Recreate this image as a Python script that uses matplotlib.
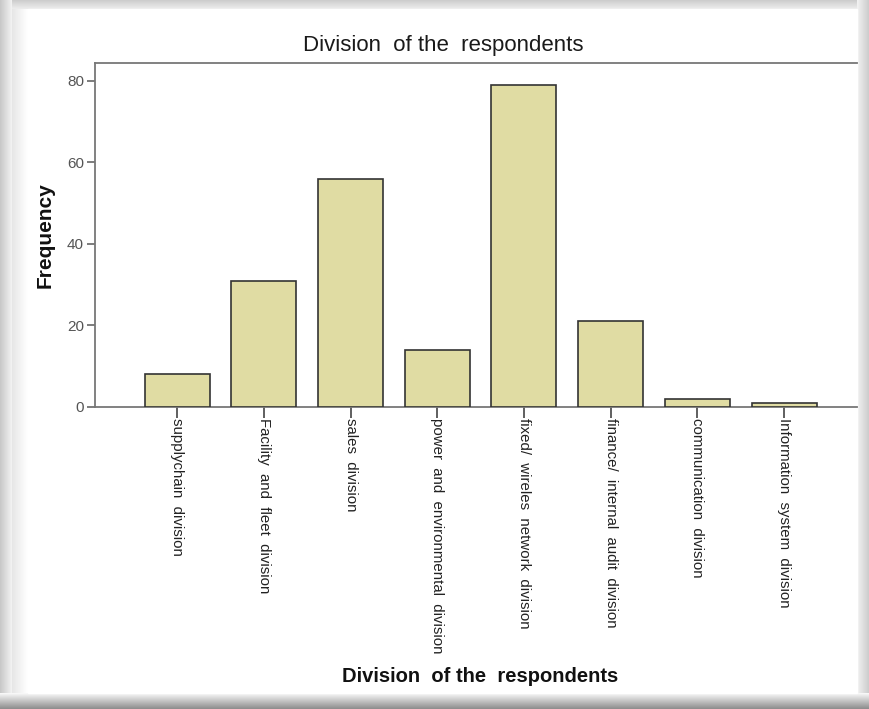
import numpy as np
import matplotlib
matplotlib.use("Agg")
import matplotlib.pyplot as plt
from matplotlib.transforms import ScaledTranslation

divisions = [
    "supplychain  division",
    "Facility  and  fleet  division",
    "sales  division",
    "power  and  environmental  division",
    "fixed/  wireles  network  division",
    "finance/  internal  audit  division",
    "communication  division",
    "Information  system  division",
]
frequency = [8, 31, 56, 14, 79, 21, 2, 1]
y_ticks = [0, 20, 40, 60, 80]

plt.rcParams["font.family"] = ["Liberation Sans", "DejaVu Sans"]

W, H = 869, 709
fig = plt.figure(figsize=(W / 100, H / 100), dpi=100)
fig.patch.set_facecolor("white")

# beveled frame drawn on a background axes in pixel coordinates
bg = fig.add_axes([0, 0, 1, 1], zorder=-10)
bg.set_xlim(0, W)
bg.set_ylim(H, 0)
bg.axis("off")

def strip(x0, x1, y0, y1, c0, c1, horizontal):
    n = 64
    g = np.linspace(c0, c1, n)
    img = g[None, :] if horizontal else g[:, None]
    bg.imshow(img, cmap="gray", vmin=0, vmax=1, extent=(x0, x1, y1, y0),
              aspect="auto", interpolation="bilinear")

strip(0, W, 0, 9, 0.80, 0.93, False)          # top edge
strip(0, 12, 0, H, 0.78, 0.95, True)           # left outer edge
strip(12, 28, 9, H - 14, 0.90, 1.0, True)      # left bevel
strip(W - 12, W, 0, H, 0.95, 0.80, True)       # right edge
strip(0, W, H - 16, H, 0.98, 0.55, False)      # bottom shadow
bg.add_patch(plt.Rectangle((28, 9), W - 40, H - 25, color="white", zorder=2))

ax = fig.add_axes([95 / W, 1 - 407 / H, (857 - 95) / W, (407 - 63) / H])
x = np.arange(len(divisions))
ax.bar(x, frequency, width=0.75, color="#e0dca3", edgecolor="#333333",
       linewidth=1.2, zorder=3)

ax.set_xlim(-0.946, 7.84)
ax.set_ylim(0, 84.4)
ax.set_yticks(y_ticks)
ax.set_yticklabels([str(v) for v in y_ticks], fontsize=11, color="#555555")
ax.set_xticks(x)
ax.set_xticklabels(divisions, rotation=270, fontsize=10.8, color="#222222",
                   ha="left", va="center", rotation_mode="anchor")
shift = ScaledTranslation(-3 / 100, 0, fig.dpi_scale_trans)
for lbl in ax.get_xticklabels():
    lbl.set_transform(lbl.get_transform() + shift)
ax.tick_params(axis="y", length=6, width=1.2, color="#666666", pad=2)
ax.tick_params(axis="x", length=8, width=1.2, color="#444444", pad=0)

for side in ("left", "top", "bottom"):
    ax.spines[side].set_color("#777777")
    ax.spines[side].set_linewidth(1.3)
ax.spines["right"].set_visible(False)

fig.text(443 / W, 1 - 46 / H, "Division  of the  respondents", fontsize=16,
         ha="center", va="center", color="#1a1a1a")
fig.text(480 / W, 1 - 676 / H, "Division  of the  respondents", fontsize=14.5,
         fontweight="bold", ha="center", va="center", color="#111111")
fig.text(45 / W, 1 - 235 / H, "Frequency", fontsize=15, fontweight="bold",
         rotation=90, ha="center", va="center", color="#111111")

fig.savefig("out.png", dpi=100)
